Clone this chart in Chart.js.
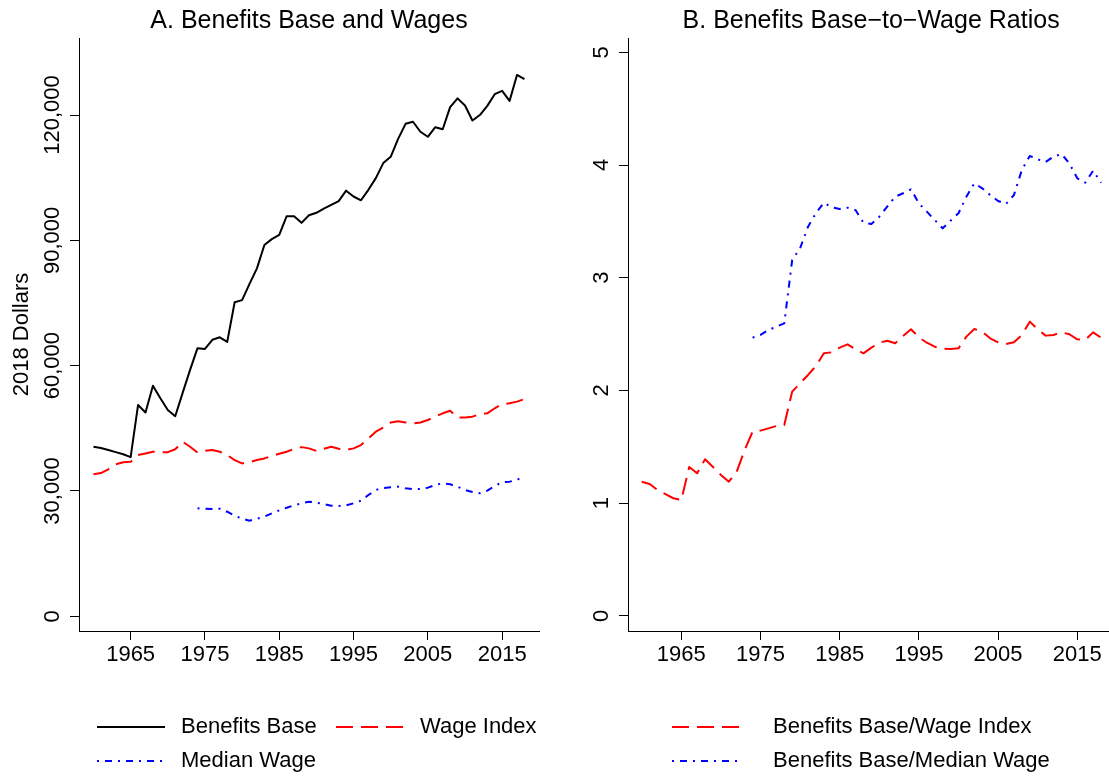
<!DOCTYPE html>
<html>
<head>
<meta charset="utf-8">
<title>Benefits Base and Wages</title>
<script src="https://cdn.jsdelivr.net/npm/chart.js@4.4.0/dist/chart.umd.min.js"></script>
<style>
  html, body { margin: 0; padding: 0; background: #fff; overflow: hidden; }
  #wrap { position: relative; width: 1109px; height: 777px; overflow: hidden; }
  #left { position: absolute; left: 0; top: 0; }
  #right { position: absolute; left: 555px; top: 0; }
</style>
</head>
<body>
<div id="wrap">
  <canvas id="left" width="555" height="777"></canvas>
  <canvas id="right" width="564" height="777"></canvas>
</div>
<script>
// ---- data ----
const years = [1960, 1961, 1962, 1963, 1964, 1965, 1966, 1967, 1968, 1969,
  1970, 1971, 1972, 1973, 1974, 1975, 1976, 1977, 1978, 1979,
  1980, 1981, 1982, 1983, 1984, 1985, 1986, 1987, 1988, 1989,
  1990, 1991, 1992, 1993, 1994, 1995, 1996, 1997, 1998, 1999,
  2000, 2001, 2002, 2003, 2004, 2005, 2006, 2007, 2008, 2009,
  2010, 2011, 2012, 2013, 2014, 2015, 2016, 2017, 2018];

// panel A, 2018 dollars
const benefitsBase = [40600, 40300, 39800, 39300, 38800, 38100, 50600, 48800, 55200, 52200,
  49400, 47900, 53500, 59000, 64200, 64000, 66200, 66800, 65700, 75200,
  75700, 79600, 83300, 88900, 90300, 91300, 95800, 95800, 94200, 96000,
  96600, 97600, 98500, 99400, 101900, 100500, 99600, 102100, 104900, 108500,
  110000, 114300, 117900, 118400, 116000, 114800, 117100, 116600, 121900, 124000,
  122300, 118700, 120000, 122200, 125000, 125800, 123400, 129600, 128600];

const wageIndex = [34000, 34300, 35200, 36400, 36900, 37000, 38600, 39000, 39400, 39300,
  39300, 40000, 41800, 40600, 39200, 39600, 39800, 39400, 38600, 37400,
  36600, 36900, 37400, 37800, 38400, 38900, 39400, 40100, 40500, 40200,
  39600, 40100, 40600, 40100, 39800, 40200, 41000, 42600, 44200, 45200,
  46400, 46700, 46400, 46200, 46400, 47000, 47800, 48600, 49200, 47600,
  47600, 47800, 48400, 48600, 49800, 50800, 51000, 51400, 52000];

const medianWage = [null, null, null, null, null, null, null, null, null, null,
  null, null, null, null, 25850, 25760, 25680, 25760, 25040, 24080,
  23370, 22890, 23370, 23850, 24660, 25380, 26000, 26570, 27050, 27440,
  27200, 26890, 26480, 26400, 26570, 27050, 27680, 29040, 30240, 30720,
  30880, 31030, 30640, 30480, 30480, 30800, 31430, 31840, 31600, 31030,
  30240, 29760, 29450, 30080, 31190, 32080, 32240, 32630, 33660];

// panel B, ratios
const ratioWageIndex = [1.19, 1.17, 1.116, 1.08, 1.043, 1.027, 1.32, 1.264, 1.389, 1.32,
  1.25, 1.19, 1.28, 1.47, 1.634, 1.643, 1.663, 1.684, 1.693, 1.989,
  2.063, 2.137, 2.216, 2.329, 2.338, 2.379, 2.409, 2.365, 2.329, 2.379,
  2.423, 2.441, 2.418, 2.483, 2.542, 2.471, 2.423, 2.388, 2.37, 2.367,
  2.373, 2.477, 2.545, 2.521, 2.462, 2.427, 2.412, 2.427, 2.492, 2.61,
  2.542, 2.486, 2.492, 2.515, 2.498, 2.453, 2.447, 2.515, 2.468];

const ratioMedianWage = [null, null, null, null, null, null, null, null, null, null,
  null, null, null, null, 2.468, 2.492, 2.536, 2.565, 2.595, 3.157,
  3.261, 3.453, 3.572, 3.666, 3.625, 3.61, 3.621, 3.60, 3.488, 3.476,
  3.541, 3.63, 3.719, 3.749, 3.784, 3.66, 3.586, 3.512, 3.438, 3.506,
  3.572, 3.719, 3.838, 3.793, 3.734, 3.681, 3.654, 3.734, 3.956, 4.08,
  4.051, 4.027, 4.074, 4.098, 4.015, 3.882, 3.843, 3.95, 3.843];

const xTicks = [1965, 1975, 1985, 1995, 2005, 2015];
const yTicksA = [0, 30000, 60000, 90000, 120000];
const yTicksB = [0, 1, 2, 3, 4, 5];

const FONT = '"Liberation Sans", Arial, Helvetica, sans-serif';

function toPoints(vals) {
  return years.map((yr, i) => ({ x: yr, y: vals[i] })).filter(p => p.y !== null);
}

// titles, rotated y labels and the legend below the plot
function overlay(s) {
  return {
    id: 'overlay',
    afterDraw(chart) {
      const ctx = chart.ctx;
      const area = chart.chartArea;
      const ys = chart.scales.y;
      ctx.save();
      ctx.fillStyle = '#000';

      ctx.font = '25px ' + FONT;
      ctx.textAlign = 'center';
      ctx.textBaseline = 'alphabetic';
      ctx.fillText(s.title, (area.left + area.right) / 2, 28);

      ctx.font = '22px ' + FONT;
      ys.ticks.forEach(t => {
        ctx.save();
        ctx.translate(area.left - 20, ys.getPixelForValue(t.value));
        ctx.rotate(-Math.PI / 2);
        ctx.fillText(t.label, 0, 0);
        ctx.restore();
      });

      if (s.yTitle) {
        ctx.save();
        ctx.translate(28, (area.top + area.bottom) / 2);
        ctx.rotate(-Math.PI / 2);
        ctx.fillText(s.yTitle, 0, 0);
        ctx.restore();
      }

      s.legend.forEach(item => {
        const ds = chart.data.datasets[item.ds];
        ctx.save();
        ctx.strokeStyle = ds.borderColor;
        ctx.lineWidth = ds.borderWidth;
        ctx.setLineDash(ds.borderDash || []);
        ctx.beginPath();
        ctx.moveTo(item.x, item.y);
        ctx.lineTo(item.x + s.sample, item.y);
        ctx.stroke();
        ctx.restore();
        ctx.textAlign = 'left';
        ctx.textBaseline = 'middle';
        ctx.fillText(ds.label, item.x + s.textGap, item.y);
      });
      ctx.restore();
    }
  };
}

function axisX(min, max) {
  return {
    type: 'linear', min: min, max: max,
    afterBuildTicks: sc => { sc.ticks = xTicks.map(v => ({ value: v })); },
    afterFit: sc => { sc.height = 146; },
    ticks: { color: '#000', font: { family: FONT, size: 22 }, padding: 2,
      maxRotation: 0, autoSkip: false, callback: v => String(v) },
    grid: { display: true, drawOnChartArea: false, drawTicks: true, tickLength: 9, color: '#000', lineWidth: 1 },
    border: { display: true, color: '#000', width: 1 }
  };
}

function axisY(min, max, ticks, width) {
  return {
    type: 'linear', min: min, max: max,
    afterBuildTicks: sc => { sc.ticks = ticks.map(v => ({ value: v })); },
    afterFit: sc => { sc.width = width; },
    ticks: { display: false, callback: v => v.toLocaleString('en-US') },
    grid: { display: true, drawOnChartArea: false, drawTicks: true, tickLength: 9, color: '#000', lineWidth: 1 },
    border: { display: true, color: '#000', width: 1 }
  };
}

const lineBase = { pointRadius: 0, borderWidth: 2, tension: 0, fill: false, borderJoinStyle: 'round' };

new Chart(document.getElementById('left'), {
  type: 'line',
  data: {
    datasets: [
      Object.assign({ label: 'Benefits Base', data: toPoints(benefitsBase), borderColor: '#000000', borderDash: [] }, lineBase),
      Object.assign({ label: 'Wage Index', data: toPoints(wageIndex), borderColor: '#ff0000', borderDash: [17, 8] }, lineBase),
      Object.assign({ label: 'Median Wage', data: toPoints(medianWage), borderColor: '#0000ff', borderDash: [2, 6, 7, 6] }, lineBase)
    ]
  },
  options: {
    responsive: false,
    animation: false,
    events: [],
    layout: { padding: { top: 38, right: 16, left: 0, bottom: 0 } },
    scales: { x: axisX(1958.05, 2019.96), y: axisY(-3519, 138450, yTicksA, 79) },
    plugins: { legend: { display: false }, tooltip: { enabled: false } }
  },
  plugins: [overlay({
    title: 'A. Benefits Base and Wages',
    yTitle: '2018 Dollars',
    sample: 68, textGap: 84,
    legend: [{ ds: 0, x: 97, y: 727 }, { ds: 1, x: 336, y: 727 }, { ds: 2, x: 97, y: 761 }]
  })]
});

new Chart(document.getElementById('right'), {
  type: 'line',
  data: {
    datasets: [
      Object.assign({ label: 'Benefits Base/Wage Index', data: toPoints(ratioWageIndex), borderColor: '#ff0000', borderDash: [17, 8] }, lineBase),
      Object.assign({ label: 'Benefits Base/Median Wage', data: toPoints(ratioMedianWage), borderColor: '#0000ff', borderDash: [2, 6, 7, 6] }, lineBase)
    ]
  },
  options: {
    responsive: false,
    animation: false,
    events: [],
    layout: { padding: { top: 38, right: 4.8, left: 0, bottom: 0 } },
    scales: { x: axisX(1958.27, 2019.66), y: axisY(-0.135, 5.127, yTicksB, 73) },
    plugins: { legend: { display: false }, tooltip: { enabled: false } }
  },
  plugins: [overlay({
    title: 'B. Benefits Base\u2212to\u2212Wage Ratios',
    sample: 68, textGap: 101,
    legend: [{ ds: 0, x: 117, y: 727 }, { ds: 1, x: 117, y: 761 }]
  })]
});
</script>
</body>
</html>
